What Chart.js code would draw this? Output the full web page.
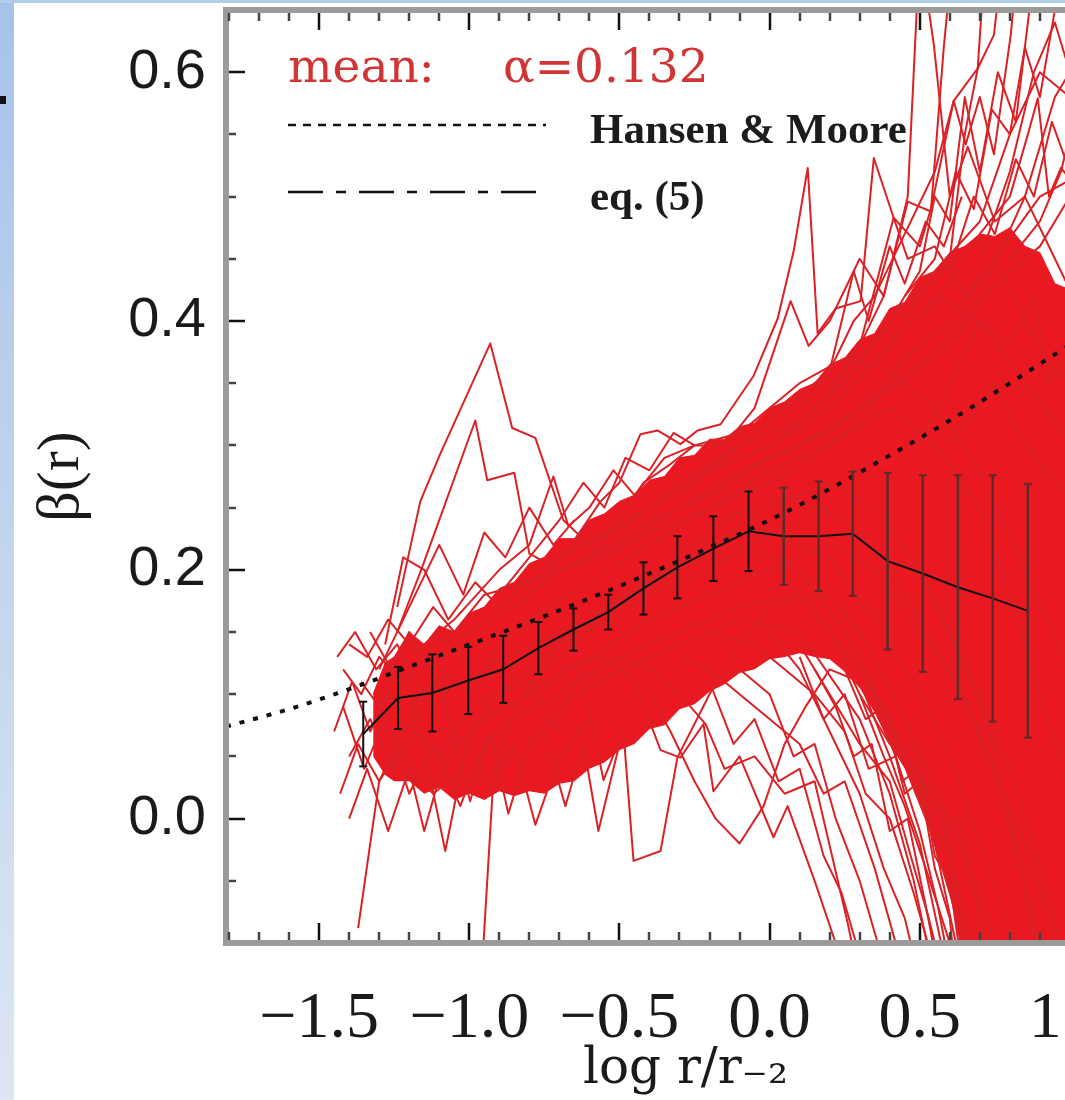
<!DOCTYPE html>
<html><head><meta charset="utf-8">
<script src="https://cdn.jsdelivr.net/npm/chart.js@4/dist/chart.umd.min.js"></script>
<style>
html,body{margin:0;padding:0;background:#fff;overflow:hidden;width:1065px;height:1100px;}
#wrap{position:relative;width:1065px;height:1100px;overflow:hidden;background:#fff;}
#c{position:absolute;left:0;top:0;width:1240px;height:1100px;}
#leftStrip{position:absolute;left:0;top:0;width:14px;height:1100px;background:linear-gradient(#a7c3ea,#dde6f2);}
#topStrip{position:absolute;left:0;top:0;width:1065px;height:3px;background:#b4cdeb;}
#mark{position:absolute;left:0;top:96px;width:6px;height:8px;background:#111;}
</style></head>
<body>
<div id="wrap">
<canvas id="c" width="1240" height="1100"></canvas>
<div id="leftStrip"></div><div id="topStrip"></div><div id="mark"></div>
</div>
<script>
// ---------- data ----------
const LOG_R_MEAN = [-1.353,-1.237,-1.123,-1.003,-0.887,-0.77,-0.653,-0.537,-0.42,-0.307,-0.187,-0.07,0.047,0.163,0.277,0.393,0.51,0.627,0.743,0.86];
const BETA_MEAN  = [0.068,0.097,0.101,0.111,0.12,0.137,0.152,0.166,0.185,0.202,0.217,0.231,0.227,0.227,0.229,0.207,0.197,0.186,0.177,0.167];
const BETA_ERR   = [0.026,0.025,0.031,0.027,0.027,0.021,0.017,0.014,0.021,0.025,0.026,0.032,0.039,0.044,0.05,0.071,0.079,0.09,0.099,0.102];

const HM_LOG_R = [-1.81,-1.6,-1.4,-1.2,-1.0,-0.8,-0.6,-0.4,-0.2,0.0,0.2,0.4,0.6,0.8,1.0,1.25];
const HM_BETA  = [0.074,0.088,0.104,0.122,0.14,0.158,0.177,0.197,0.218,0.24,0.265,0.292,0.32,0.35,0.381,0.42];

// envelope of the densely overlapping halo profiles
const CORE_LOG_R = [-1.32,-1.28,-1.25,-1.2,-1.15,-1.1,-1.05,-1.0,-0.95,-0.9,-0.85,-0.8,-0.75,-0.7,-0.65,-0.6,-0.55,-0.5,-0.45,-0.4,-0.35,-0.3,-0.25,-0.2,-0.15,-0.1,-0.05,0.0,0.05,0.1,0.15,0.2,0.25,0.3,0.35,0.4,0.45,0.5,0.55,0.6,0.65,0.7,0.75,0.8,0.85,0.9,0.95,1.0,1.1,1.25];
const CORE_UPPER = [0.10,0.125,0.13,0.15,0.14,0.155,0.15,0.165,0.17,0.185,0.19,0.205,0.21,0.225,0.225,0.24,0.245,0.255,0.26,0.272,0.275,0.29,0.292,0.305,0.305,0.315,0.318,0.33,0.335,0.345,0.35,0.365,0.37,0.385,0.39,0.41,0.415,0.435,0.44,0.455,0.46,0.47,0.468,0.475,0.46,0.455,0.43,0.425,0.4,0.38];
const CORE_LOWER = [0.05,0.035,0.03,0.03,0.02,0.025,0.015,0.02,0.015,0.022,0.018,0.022,0.02,0.028,0.03,0.04,0.045,0.055,0.06,0.072,0.075,0.088,0.092,0.102,0.108,0.117,0.12,0.128,0.13,0.133,0.13,0.128,0.118,0.105,0.085,0.06,0.04,0.01,-0.02,-0.06,-0.12,-0.12,-0.12,-0.12,-0.12,-0.12,-0.12,-0.12,-0.12,-0.12];

// individual halo profiles [log r/r-2, beta]
const HALO_PROFILES = [
 [[-1.42,0.12],[-1.36,0.10],[-1.3,0.13],[-1.22,0.11],[-1.12,0.14],[-1.0,0.15],[-0.85,0.17],[-0.7,0.2],[-0.5,0.22],[-0.3,0.25],[-0.1,0.28],[0.1,0.3],[0.3,0.33],[0.5,0.36],[0.7,0.42],[0.85,0.5],[0.95,0.58],[1.05,0.62],[1.2,0.6]],
 [[-1.4,0.05],[-1.33,0.08],[-1.25,0.04],[-1.18,0.07],[-1.1,0.05],[-1.0,0.09],[-0.85,0.11],[-0.7,0.14],[-0.5,0.17],[-0.3,0.2],[-0.1,0.22],[0.1,0.2],[0.25,0.15],[0.4,0.08],[0.5,0.02],[0.6,-0.06],[0.68,-0.13]],
 [[-1.43,0.02],[-1.37,0.06],[-1.3,0.03],[-1.22,0.06],[-1.15,-0.01],[-1.08,0.05],[-0.95,0.08],[-0.8,0.1],[-0.6,0.13],[-0.4,0.16],[-0.2,0.18],[0.0,0.2],[0.2,0.22],[0.35,0.2],[0.5,0.15],[0.65,0.1],[0.75,0.03],[0.85,-0.05],[0.92,-0.13]],
 [[-1.4,0.14],[-1.34,0.13],[-1.27,0.16],[-1.2,0.14],[-1.12,0.17],[-1.05,0.15],[-0.95,0.18],[-0.8,0.19],[-0.6,0.21],[-0.4,0.24],[-0.2,0.26],[0.0,0.29],[0.2,0.31],[0.4,0.35],[0.6,0.38],[0.75,0.43],[0.9,0.46],[1.0,0.5],[1.15,0.55]],
 [[-1.37,-0.088],[-1.3,0.03],[-1.22,0.07],[-1.1,0.1],[-0.95,0.12],[-0.8,0.14],[-0.6,0.16],[-0.4,0.19],[-0.2,0.22],[0.0,0.25],[0.2,0.27],[0.35,0.25],[0.5,0.2],[0.65,0.12],[0.8,0.04],[0.9,-0.04],[1.0,-0.13]],
 [[-1.42,0.09],[-1.35,0.04],[-1.28,0.08],[-1.2,0.02],[-1.12,0.06],[-1.03,0.01],[-0.95,0.06],[-0.85,0.08],[-0.7,0.1],[-0.5,0.13],[-0.3,0.15],[-0.1,0.17],[0.1,0.18],[0.3,0.12],[0.45,0.05],[0.55,-0.02],[0.62,-0.1],[0.66,-0.14]],
 [[-1.36,0.11],[-1.3,0.09],[-1.24,0.12],[-1.17,0.08],[-1.08,-0.026],[-1.0,0.07],[-0.9,0.1],[-0.75,0.13],[-0.55,0.17],[-0.35,0.2],[-0.15,0.24],[0.05,0.26],[0.25,0.24],[0.4,0.2],[0.55,0.14],[0.7,0.07],[0.85,-0.02],[0.95,-0.1],[1.0,-0.15]],
 [[-1.33,0.15],[-1.26,0.12],[-1.2,0.15],[-1.13,0.12],[-1.05,0.14],[-0.98,0.11],[-0.9,0.14],[-0.8,0.16],[-0.6,0.19],[-0.4,0.22],[-0.2,0.25],[0.0,0.27],[0.15,0.29],[0.3,0.32],[0.45,0.37],[0.6,0.4],[0.75,0.45],[0.9,0.5],[1.05,0.52],[1.2,0.5]],
 [[-1.2,0.09],[-1.1,0.11],[-0.997,0.014],[-0.93,0.07],[-0.87,0.004],[-0.8,0.06],[-0.7,0.09],[-0.5,0.12],[-0.3,0.14],[-0.1,0.16],[0.1,0.15],[0.3,0.08],[0.4,0.02],[0.48,-0.05],[0.55,-0.13]],
 [[-0.955,-0.11],[-0.92,0.031],[-0.85,0.09],[-0.75,0.12],[-0.6,0.15],[-0.4,0.18],[-0.2,0.2],[0.0,0.23],[0.2,0.21],[0.35,0.16],[0.5,0.1],[0.6,0.05],[0.7,-0.02],[0.8,-0.09],[0.88,-0.14]],
 [[-1.24,0.17],[-1.163,0.255],[-1.097,0.293],[-0.93,0.382],[-0.857,0.314],[-0.78,0.306],[-0.687,0.24],[-0.6,0.22],[-0.45,0.24],[-0.3,0.27],[-0.1,0.3],[0.1,0.32],[0.25,0.35],[0.4,0.4],[0.55,0.44],[0.7,0.48],[0.8,0.55],[0.9,0.6],[1.0,0.58],[1.1,0.55]],
 [[-1.24,0.15],[-1.16,0.2],[-0.98,0.32],[-0.94,0.272],[-0.85,0.278],[-0.8,0.213],[-0.7,0.2],[-0.55,0.21],[-0.4,0.23],[-0.2,0.25],[0.0,0.28],[0.2,0.3],[0.4,0.33],[0.55,0.3],[0.7,0.25],[0.8,0.18],[0.9,0.1],[1.0,0.02]],
 [[-1.28,0.14],[-1.22,0.21],[-1.15,0.2],[-1.07,0.16],[-0.98,0.19],[-0.9,0.17],[-0.8,0.19],[-0.7,0.21],[-0.55,0.23],[-0.4,0.25],[-0.2,0.28],[0.0,0.3],[0.2,0.33],[0.4,0.38],[0.55,0.42],[0.7,0.4],[0.85,0.35],[1.0,0.3]],
 [[-1.2,0.13],[-1.05,0.16],[-0.9,0.2],[-0.8,0.22],[-0.72,0.275],[-0.67,0.235],[-0.6,0.25],[-0.52,0.28],[-0.45,0.26],[-0.35,0.29],[-0.25,0.3],[-0.1,0.31],[0.0,0.33],[0.1,0.35],[0.25,0.37],[0.4,0.36],[0.55,0.33],[0.7,0.28],[0.85,0.2],[1.0,0.12]],
 [[-0.75,0.2],[-0.66,0.22],[-0.563,0.255],[-0.5,0.27],[-0.43,0.309],[-0.373,0.312],[-0.297,0.301],[-0.24,0.312],[-0.163,0.317],[-0.053,0.356],[0.027,0.402],[0.08,0.456],[0.127,0.523],[0.16,0.39],[0.22,0.41],[0.303,0.416],[0.347,0.531],[0.413,0.483],[0.46,0.45],[0.55,0.46],[0.65,0.42],[0.75,0.45],[0.85,0.4],[0.95,0.36],[1.1,0.33]],
 [[-0.6,0.21],[-0.5,0.24],[-0.42,0.27],[-0.33,0.285],[-0.25,0.3],[-0.15,0.3],[-0.05,0.33],[0.07,0.416],[0.13,0.38],[0.2,0.4],[0.3,0.45],[0.38,0.42],[0.46,0.496],[0.537,0.488],[0.58,0.62],[0.62,0.72]],
 [[-0.3,0.26],[-0.2,0.28],[-0.1,0.3],[0.0,0.32],[0.1,0.34],[0.2,0.36],[0.28,0.4],[0.35,0.42],[0.45,0.47],[0.55,0.52],[0.613,0.577],[0.693,0.603],[0.747,0.63],[0.78,0.7]],
 [[0.0,0.3],[0.15,0.33],[0.3,0.38],[0.38,0.42],[0.46,0.5],[0.5,0.7],[0.547,0.622],[0.6,0.5],[0.66,0.54],[0.75,0.48],[0.85,0.5],[0.95,0.45],[1.05,0.4]],
 [[0.2,0.34],[0.3,0.38],[0.413,0.483],[0.5,0.46],[0.537,0.49],[0.613,0.577],[0.653,0.542],[0.7,0.58],[0.747,0.534],[0.803,0.63],[0.83,0.7]],
 [[0.4,0.38],[0.5,0.42],[0.6,0.45],[0.65,0.55],[0.693,0.603],[0.72,0.7]],
 [[0.5,0.4],[0.6,0.43],[0.7,0.47],[0.8,0.5],[0.86,0.55],[0.893,0.579],[0.93,0.5],[0.97,0.523],[1.05,0.5],[1.15,0.48]],
 [[0.7,0.45],[0.8,0.52],[0.88,0.6],[0.95,0.64],[1.0,0.6],[1.1,0.55]],
 [[0.8,0.45],[0.9,0.48],[0.97,0.52],[1.0,0.55],[1.1,0.5]],
 [[-0.9,0.1],[-0.8,0.11],[-0.72,0.071],[-0.63,0.12],[-0.553,0.031],[-0.487,0.071],[-0.453,-0.034],[-0.363,-0.026],[-0.307,0.049],[-0.2,0.1],[-0.1,0.14],[0.0,0.17],[0.2,0.18],[0.3,0.15],[0.45,0.08],[0.6,0.0],[0.7,-0.06],[0.78,-0.13]],
 [[-0.7,0.12],[-0.55,0.13],[-0.45,0.11],[-0.363,0.055],[-0.297,0.049],[-0.22,0.076],[-0.187,0.022],[-0.1,0.05],[0.013,-0.015],[0.06,0.01],[0.15,-0.05],[0.22,-0.1],[0.26,-0.13]],
 [[-0.5,0.13],[-0.4,0.12],[-0.3,0.1],[-0.213,0.076],[-0.15,0.04],[-0.05,0.05],[0.05,0.02],[0.15,0.03],[0.26,-0.084],[0.3,-0.13]],
 [[-0.3,0.13],[-0.2,0.12],[-0.1,0.1],[0.0,0.08],[0.1,0.06],[0.18,0.02],[0.25,0.03],[0.35,-0.04],[0.42,-0.1],[0.45,-0.13]],
 [[-0.2,0.15],[-0.05,0.14],[0.05,0.12],[0.15,0.1],[0.25,0.07],[0.32,0.02],[0.4,0.0],[0.48,-0.06],[0.55,-0.12]],
 [[-0.4,0.1],[-0.33,0.07],[-0.25,0.03],[-0.18,0.0],[-0.1,-0.02],[-0.02,0.01],[0.05,0.06],[0.12,0.09],[0.2,0.12],[0.3,0.11],[0.4,0.05],[0.5,-0.02],[0.58,-0.11]],
 [[0.0,0.15],[0.1,0.12],[0.2,0.07],[0.3,0.02],[0.38,-0.04],[0.45,-0.08],[0.5,-0.13]],
 [[0.1,0.14],[0.2,0.1],[0.3,0.06],[0.4,0.03],[0.47,-0.03],[0.53,-0.08],[0.58,-0.13]],
 [[0.2,0.15],[0.3,0.1],[0.38,0.05],[0.45,0.01],[0.52,-0.04],[0.6,-0.1],[0.63,-0.13]],
 [[-0.1,0.12],[0.0,0.1],[0.08,0.05],[0.15,0.06],[0.22,0.0],[0.3,-0.05],[0.36,-0.1],[0.4,-0.13]],
 [[0.3,0.12],[0.4,0.08],[0.47,0.04],[0.55,0.02],[0.62,-0.05],[0.67,-0.1],[0.7,-0.13]],
 [[0.5,0.3],[0.6,0.35],[0.7,0.4],[0.8,0.38],[0.88,0.42],[0.93,0.35],[1.0,0.38],[1.1,0.33]],
 [[0.6,0.3],[0.75,0.35],[0.85,0.3],[0.95,0.27],[1.05,0.25]],
 [[0.5,0.2],[0.6,0.15],[0.7,0.1],[0.8,0.0],[0.87,-0.08],[0.9,-0.13]],
 [[0.3,0.37],[0.4,0.4],[0.5,0.44],[0.55,0.5],[0.6,0.48],[0.65,0.58],[0.7,0.52],[0.76,0.6],[0.82,0.56],[0.87,0.66]],
 [[0.45,0.42],[0.55,0.45],[0.62,0.52],[0.68,0.49],[0.74,0.57],[0.8,0.55],[0.85,0.62],[0.9,0.58],[0.95,0.65],[1.0,0.7]],
 [[0.6,0.44],[0.68,0.5],[0.75,0.47],[0.82,0.53],[0.88,0.5],[0.94,0.56],[1.0,0.52],[1.1,0.48]],
 [[0.1,0.33],[0.2,0.36],[0.28,0.44],[0.33,0.4],[0.4,0.46],[0.45,0.43],[0.52,0.48],[0.58,0.46],[0.64,0.5]],
 [[0.3,0.1],[0.4,0.06],[0.5,0.04],[0.57,-0.02],[0.63,0.0],[0.7,-0.08],[0.74,-0.13]],
 [[0.1,0.13],[0.18,0.08],[0.25,0.1],[0.33,0.04],[0.42,0.05],[0.5,-0.01],[0.56,-0.07],[0.6,-0.12]],
 [[-0.2,0.11],[-0.12,0.06],[-0.05,0.08],[0.03,0.03],[0.1,0.04],[0.18,-0.03],[0.24,-0.06],[0.3,-0.11]],
 [[-1.45,0.07],[-1.39,0.11],[-1.33,0.07],[-1.27,0.1],[-1.2,0.08],[-1.1,0.12],[-1.0,0.1],[-0.9,0.12]],
 [[-1.44,0.13],[-1.38,0.15],[-1.31,0.12],[-1.24,0.14],[-1.16,0.1],[-1.05,0.12]],
 [[-1.4,0.0],[-1.34,0.04],[-1.27,-0.01],[-1.2,0.04],[-1.12,0.02],[-1.02,0.04]],
 [[-1.3,0.12],[-1.2,0.17],[-1.1,0.22],[-1.02,0.18],[-0.95,0.23],[-0.88,0.21],[-0.8,0.25],[-0.72,0.22],[-0.65,0.24]],
 [[-0.9,0.18],[-0.8,0.21],[-0.7,0.24],[-0.62,0.27],[-0.55,0.25],[-0.48,0.29],[-0.4,0.28],[-0.32,0.31],[-0.25,0.3]],
 [[0.25,0.12],[0.32,0.08],[0.38,0.09],[0.44,0.03],[0.5,0.04],[0.55,-0.03],[0.6,-0.05],[0.64,-0.12]],
 [[0.35,0.09],[0.42,0.05],[0.48,0.06],[0.53,0.0],[0.58,0.01],[0.62,-0.06],[0.66,-0.12]],
 [[0.15,0.12],[0.22,0.09],[0.28,0.05],[0.34,0.06],[0.4,-0.01],[0.46,0.0],[0.52,-0.07],[0.56,-0.12]],
 [[0.4,0.07],[0.45,0.02],[0.5,0.03],[0.55,-0.04],[0.6,-0.08],[0.62,-0.13]],
 [[-1.0,0.06],[-0.93,0.02],[-0.85,0.06],[-0.78,-0.005],[-0.7,0.05],[-0.6,0.08]],
 [[-0.75,0.07],[-0.68,0.01],[-0.62,0.06],[-0.57,-0.01],[-0.5,0.06]]
];

const X_TICK_LABELS = [-1.5,-1.0,-0.5,0.0,0.5,1.0];
const X_MINOR_TICKS = [-1.8,-1.7,-1.6,-1.4,-1.3,-1.2,-1.1,-0.9,-0.8,-0.7,-0.6,-0.4,-0.3,-0.2,-0.1,0.1,0.2,0.3,0.4,0.6,0.7,0.8,0.9,1.1,1.2];
const Y_TICK_LABELS = [0.0,0.2,0.4,0.6];
const Y_MINOR_TICKS = [-0.05,0.05,0.1,0.15,0.25,0.3,0.35,0.45,0.5,0.55];

const LEGEND_MEAN = 'mean:';
const LEGEND_ALPHA = '\u03b1=0.132';
const LEGEND_HM = 'Hansen & Moore';
const LEGEND_EQ = 'eq. (5)';

// ---------- build datasets ----------
const RED_FILL = 'rgb(234,24,32)';
const RED_LINE = 'rgb(218,34,38)';

const toPts = (xs, ys) => xs.map((x, i) => ({x, y: ys[i]}));

function errorBarPoints(from, to) {
  const pts = [];
  for (let i = from; i < to; i++) {
    pts.push({x: LOG_R_MEAN[i], y: BETA_MEAN[i] - BETA_ERR[i]});
    pts.push({x: LOG_R_MEAN[i], y: BETA_MEAN[i] + BETA_ERR[i]});
    pts.push({x: LOG_R_MEAN[i], y: null});
  }
  return pts;
}

const datasets = [];
datasets.push({label:'core-low', data: toPts(CORE_LOG_R, CORE_LOWER), borderWidth: 0, borderColor: RED_FILL, pointRadius: 0, fill: false, order: 20, clip: 0});
datasets.push({label:'core-high', data: toPts(CORE_LOG_R, CORE_UPPER), borderWidth: 1, borderColor: RED_FILL, backgroundColor: RED_FILL, pointRadius: 0, fill: '-1', order: 20, clip: 0});
HALO_PROFILES.forEach((p, k) => {
  datasets.push({label: 'halo ' + (k+1), data: p.map(([x, y]) => ({x, y})), borderColor: RED_LINE, borderWidth: 2, pointRadius: 0, fill: false, borderJoinStyle: 'round', order: 10, clip: 0});
});
datasets.push({label: 'Hansen & Moore', data: toPts(HM_LOG_R, HM_BETA), borderColor: '#111', borderWidth: 4, borderDash: [5, 9], pointRadius: 0, fill: false, cubicInterpolationMode: 'monotone', order: 3, clip: 0});
datasets.push({label: 'mean', data: toPts(LOG_R_MEAN, BETA_MEAN), borderColor: '#111', borderWidth: 2, pointRadius: 0, fill: false, order: 2, clip: 0});
datasets.push({label: 'err-left', data: errorBarPoints(0, 12), borderColor: '#111', borderWidth: 2, pointStyle: 'line', pointRadius: 4, pointBorderWidth: 2, pointBorderColor: '#111', spanGaps: false, fill: false, order: 1, clip: 0});
datasets.push({label: 'err-right', data: errorBarPoints(12, LOG_R_MEAN.length), borderColor: '#5e2a2a', borderWidth: 2.5, pointStyle: 'line', pointRadius: 4, pointBorderWidth: 2, pointBorderColor: '#5e2a2a', spanGaps: false, fill: false, order: 1, clip: 0});

// ---------- plugins: frame with inside ticks, in-plot legend ----------
const framePlugin = {
  id: 'frameTicks',
  afterDatasetsDraw(chart) {
    const {ctx, chartArea: a, scales: {x, y}} = chart;
    ctx.save();
    ctx.strokeStyle = '#9b9b9b';
    ctx.lineWidth = 6;
    ctx.strokeRect(a.left, a.top, a.right - a.left, a.bottom - a.top);
    const inset = 3;
    const xt = (vals, len, color) => {
      ctx.strokeStyle = color; ctx.lineWidth = 2.5; ctx.beginPath();
      vals.forEach(v => {
        const px = Math.round(x.getPixelForValue(v));
        ctx.moveTo(px, a.bottom - inset); ctx.lineTo(px, a.bottom - inset - len);
        ctx.moveTo(px, a.top + inset); ctx.lineTo(px, a.top + inset + len);
      });
      ctx.stroke();
    };
    const yt = (vals, len, color) => {
      ctx.strokeStyle = color; ctx.lineWidth = 2.5; ctx.beginPath();
      vals.forEach(v => {
        const py = Math.round(y.getPixelForValue(v));
        ctx.moveTo(a.left + inset, py); ctx.lineTo(a.left + inset + len, py);
        ctx.moveTo(a.right - inset, py); ctx.lineTo(a.right - inset - len, py);
      });
      ctx.stroke();
    };
    xt(X_MINOR_TICKS, 8, '#444');
    xt(X_TICK_LABELS, 17, '#111');
    yt(Y_MINOR_TICKS, 7, '#444');
    yt(Y_TICK_LABELS, 16, '#111');
    ctx.restore();
  }
};

const legendPlugin = {
  id: 'inPlotLegend',
  afterDraw(chart) {
    const {ctx, chartArea: a} = chart;
    ctx.save();
    ctx.textBaseline = 'alphabetic';
    ctx.textAlign = 'left';
    ctx.fillStyle = '#d03434';
    ctx.font = '47px "DejaVu Serif"';
    ctx.fillText(LEGEND_MEAN, a.left + 62, a.top + 72);
    ctx.fillText(LEGEND_ALPHA, a.left + 277, a.top + 72);
    ctx.strokeStyle = '#111';
    ctx.lineWidth = 2.5;
    ctx.setLineDash([8, 7]);
    ctx.beginPath(); ctx.moveTo(a.left + 62, a.top + 115); ctx.lineTo(a.left + 320, a.top + 115); ctx.stroke();
    ctx.setLineDash([35, 13, 10, 13]);
    ctx.beginPath(); ctx.moveTo(a.left + 62, a.top + 182); ctx.lineTo(a.left + 320, a.top + 182); ctx.stroke();
    ctx.setLineDash([]);
    ctx.fillStyle = '#1c1c1c';
    ctx.font = 'bold 43px "Liberation Serif"';
    ctx.fillText(LEGEND_HM, a.left + 364, a.top + 133);
    ctx.fillText(LEGEND_EQ, a.left + 364, a.top + 200);
    ctx.restore();
  }
};

const fmtX = v => (v < 0 ? '\u2212' : '') + Math.abs(v).toFixed(1);

new Chart(document.getElementById('c'), {
  type: 'line',
  data: {datasets},
  options: {
    responsive: false,
    animation: false,
    devicePixelRatio: 1,
    layout: {padding: {left: 0, top: 10, right: 95, bottom: 0}},
    plugins: {legend: {display: false}, tooltip: {enabled: false}},
    scales: {
      x: {
        type: 'linear', min: -1.81, max: 1.25,
        grid: {display: false, drawTicks: false},
        border: {display: false},
        afterBuildTicks: s => { s.ticks = X_TICK_LABELS.map(v => ({value: v})); },
        afterFit: s => { s.height = 157; s.paddingLeft = 0; s.paddingRight = 0; },
        ticks: {autoSkip: false, maxRotation: 0, minRotation: 0, padding: 37, color: '#1a1a1a',
                font: {family: 'Liberation Serif', size: 66}, callback: v => fmtX(v)},
        title: {display: true, text: 'log r/r\u208B\u2082', color: '#1a1a1a',
                font: {family: 'DejaVu Serif', size: 50, lineHeight: 1.0}, padding: {top: 0, bottom: 5}}
      },
      y: {
        type: 'linear', min: -0.1, max: 0.65,
        grid: {display: false, drawTicks: false},
        border: {display: false},
        afterBuildTicks: s => { s.ticks = Y_TICK_LABELS.map(v => ({value: v})); },
        afterFit: s => { s.width = 226; s.paddingTop = 0; s.paddingBottom = 0; },
        ticks: {autoSkip: false, padding: 20, color: '#1a1a1a',
                font: {family: 'Liberation Sans', size: 56}, callback: v => v.toFixed(1)},
        title: {display: true, text: '\u03b2(r)', color: '#1a1a1a',
                font: {family: 'Liberation Serif', size: 60}, padding: {top: 26, bottom: 0}}
      }
    }
  },
  plugins: [framePlugin, legendPlugin]
});
</script>
</body></html>
